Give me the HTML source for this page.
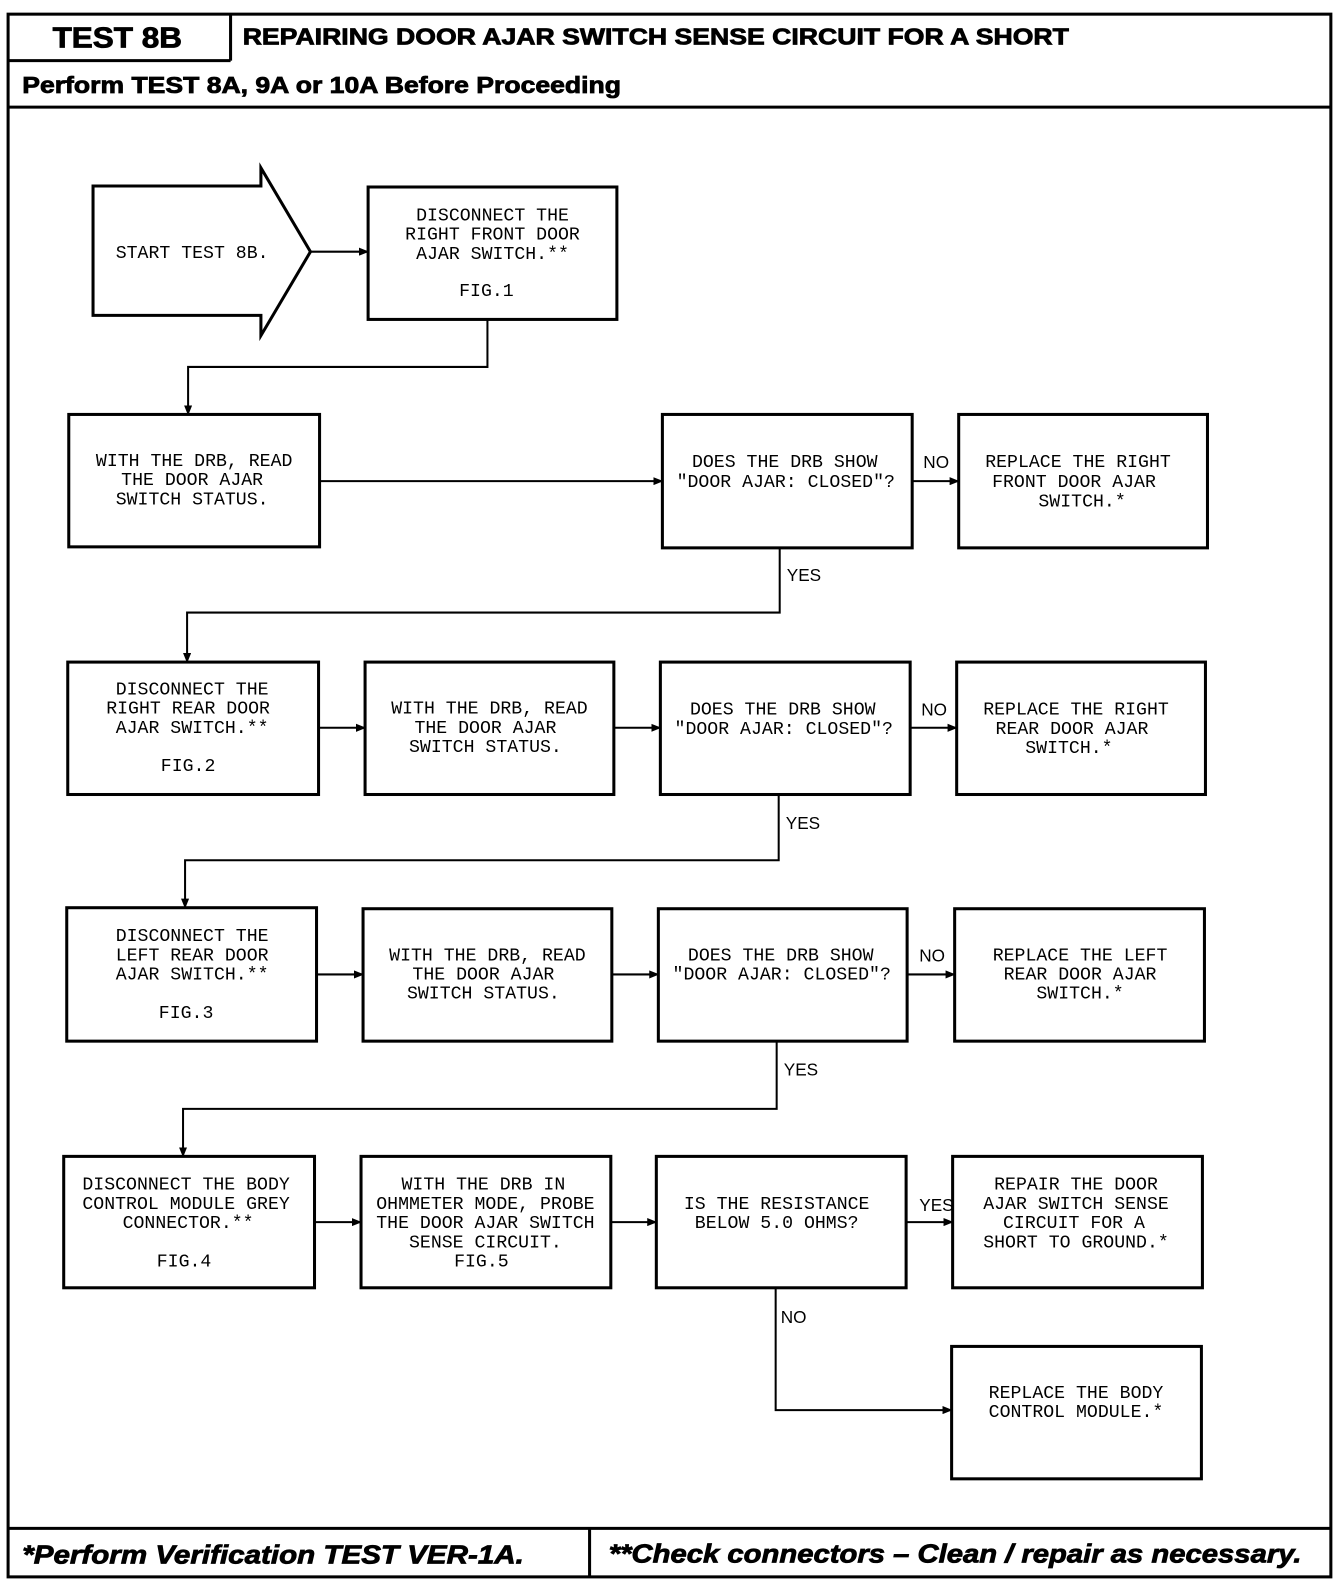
<!DOCTYPE html>
<html><head><meta charset="utf-8"><style>
html,body{margin:0;padding:0;background:#fff;}
svg{display:block}
.m{font-family:"Liberation Mono",monospace;font-size:18px;fill:#000;text-anchor:middle}
.h{font-family:"Liberation Sans",sans-serif;font-weight:bold;fill:#000;stroke:#000;stroke-width:0.8}
.l{font-family:"Liberation Sans",sans-serif;font-size:17px;fill:#000}
</style></head><body>
<svg width="1344" height="1588" viewBox="0 0 1329 1571" preserveAspectRatio="none" xmlns="http://www.w3.org/2000/svg">
<defs><marker id="a" markerWidth="10" markerHeight="8" refX="9" refY="4" orient="auto" markerUnits="userSpaceOnUse"><path d="M0,0 L10,4 L0,8 z" fill="#000"/></marker></defs>
<g fill="none" stroke="#000" stroke-width="3">
<rect x="8" y="14" width="1308" height="1546"/>
<line x1="8" y1="60" x2="228" y2="60"/><line x1="228" y1="14" x2="228" y2="60"/>
<line x1="8" y1="106" x2="1316" y2="106"/>
<line x1="8" y1="1512" x2="1316" y2="1512"/><line x1="583" y1="1512" x2="583" y2="1560"/>
<path d="M92,184 L258,184 L258,166 L307,249 L258,332 L258,312 L92,312 Z"/>
<rect x="364" y="185" width="246" height="131"/>
<rect x="68" y="410" width="248" height="131"/><rect x="655" y="410" width="247" height="132"/><rect x="948" y="410" width="246" height="132"/>
<rect x="67" y="655" width="248" height="131"/><rect x="361" y="655" width="246" height="131"/><rect x="653" y="655" width="247" height="131"/><rect x="946" y="655" width="246" height="131"/>
<rect x="66" y="898" width="247" height="132"/><rect x="359" y="899" width="246" height="131"/><rect x="651" y="899" width="246" height="131"/><rect x="944" y="899" width="247" height="131"/>
<rect x="63" y="1144" width="248" height="130"/><rect x="357" y="1144" width="247" height="130"/><rect x="649" y="1144" width="247" height="130"/><rect x="942" y="1144" width="247" height="130"/>
<rect x="941" y="1332" width="247" height="131"/>
</g>
<g fill="none" stroke="#000" stroke-width="2" marker-end="url(#a)">
<line x1="307" y1="249" x2="364" y2="249"/>
<path d="M482,316 V363 H186 V410"/>
<line x1="316" y1="476" x2="655" y2="476"/><line x1="902" y1="476" x2="948" y2="476"/>
<path d="M771,542 V606 H185 V655"/>
<line x1="315" y1="720" x2="361" y2="720"/><line x1="607" y1="720" x2="653" y2="720"/><line x1="900" y1="720" x2="946" y2="720"/>
<path d="M770,786 V851 H183 V898"/>
<line x1="313" y1="964" x2="359" y2="964"/><line x1="605" y1="964" x2="651" y2="964"/><line x1="897" y1="964" x2="944" y2="964"/>
<path d="M768,1030 V1097 H181 V1144"/>
<line x1="311" y1="1209" x2="357" y2="1209"/><line x1="604" y1="1209" x2="649" y2="1209"/><line x1="896" y1="1209" x2="942" y2="1209"/>
<path d="M767,1274 V1395 H941"/>
</g>
<text class="h" x="52" y="47" font-size="28" textLength="128" lengthAdjust="spacingAndGlyphs">TEST 8B</text>
<text class="h" x="240" y="44" font-size="23" textLength="817" lengthAdjust="spacingAndGlyphs">REPAIRING DOOR AJAR SWITCH SENSE CIRCUIT FOR A SHORT</text>
<text class="h" x="22" y="92" font-size="23" textLength="592" lengthAdjust="spacingAndGlyphs">Perform TEST 8A, 9A or 10A Before Proceeding</text>
<text class="h" x="22" y="1547" font-size="26" font-style="italic" textLength="496" lengthAdjust="spacingAndGlyphs">*Perform Verification TEST VER-1A.</text>
<text class="h" x="602" y="1546" font-size="26" font-style="italic" textLength="685" lengthAdjust="spacingAndGlyphs">**Check connectors – Clean / repair as necessary.</text>
<text class="m" x="190" y="255">START TEST 8B.</text>
<text class="m" x="487" y="218">DISCONNECT THE</text><text class="m" x="487" y="237">RIGHT FRONT DOOR</text><text class="m" x="487" y="256">AJAR SWITCH.**</text><text class="m" x="481" y="293">FIG.1</text>
<text class="m" x="192" y="461">WITH THE DRB, READ</text><text class="m" x="190" y="480">THE DOOR AJAR</text><text class="m" x="190" y="499">SWITCH STATUS.</text>
<text class="m" x="776" y="462">DOES THE DRB SHOW</text><text class="m" x="777" y="482">"DOOR AJAR: CLOSED"?</text>
<text class="m" x="1066" y="462">REPLACE THE RIGHT</text><text class="m" x="1062" y="482">FRONT DOOR AJAR</text><text class="m" x="1070" y="501">SWITCH.*</text>
<text class="l" x="913" y="463">NO</text><text class="l" x="778" y="575">YES</text>
<text class="m" x="190" y="687">DISCONNECT THE</text><text class="m" x="186" y="706">RIGHT REAR DOOR</text><text class="m" x="190" y="725">AJAR SWITCH.**</text><text class="m" x="186" y="763">FIG.2</text>
<text class="m" x="484" y="706">WITH THE DRB, READ</text><text class="m" x="480" y="725">THE DOOR AJAR</text><text class="m" x="480" y="744">SWITCH STATUS.</text>
<text class="m" x="774" y="707">DOES THE DRB SHOW</text><text class="m" x="775" y="726">"DOOR AJAR: CLOSED"?</text>
<text class="m" x="1064" y="707">REPLACE THE RIGHT</text><text class="m" x="1060" y="726">REAR DOOR AJAR</text><text class="m" x="1057" y="745">SWITCH.*</text>
<text class="l" x="911" y="708">NO</text><text class="l" x="777" y="820">YES</text>
<text class="m" x="190" y="931">DISCONNECT THE</text><text class="m" x="190" y="950">LEFT REAR DOOR</text><text class="m" x="190" y="969">AJAR SWITCH.**</text><text class="m" x="184" y="1007">FIG.3</text>
<text class="m" x="482" y="950">WITH THE DRB, READ</text><text class="m" x="478" y="969">THE DOOR AJAR</text><text class="m" x="478" y="988">SWITCH STATUS.</text>
<text class="m" x="772" y="950">DOES THE DRB SHOW</text><text class="m" x="773" y="969">"DOOR AJAR: CLOSED"?</text>
<text class="m" x="1068" y="950">REPLACE THE LEFT</text><text class="m" x="1068" y="969">REAR DOOR AJAR</text><text class="m" x="1068" y="988">SWITCH.*</text>
<text class="l" x="909" y="951">NO</text><text class="l" x="775" y="1064">YES</text>
<text class="m" x="184" y="1177">DISCONNECT THE BODY</text><text class="m" x="184" y="1196">CONTROL MODULE GREY</text><text class="m" x="186" y="1215">CONNECTOR.**</text><text class="m" x="182" y="1253">FIG.4</text>
<text class="m" x="478" y="1177">WITH THE DRB IN</text><text class="m" x="480" y="1196">OHMMETER MODE, PROBE</text><text class="m" x="480" y="1215">THE DOOR AJAR SWITCH</text><text class="m" x="480" y="1234">SENSE CIRCUIT.</text><text class="m" x="476" y="1253">FIG.5</text>
<text class="m" x="768" y="1196">IS THE RESISTANCE</text><text class="m" x="768" y="1215">BELOW 5.0 OHMS?</text>
<text class="m" x="1064" y="1177">REPAIR THE DOOR</text><text class="m" x="1064" y="1196">AJAR SWITCH SENSE</text><text class="m" x="1062" y="1215">CIRCUIT FOR A</text><text class="m" x="1064" y="1234">SHORT TO GROUND.*</text>
<text class="l" x="909" y="1198">YES</text><text class="l" x="772" y="1309">NO</text>
<text class="m" x="1064" y="1383">REPLACE THE BODY</text><text class="m" x="1064" y="1402">CONTROL MODULE.*</text>
</svg>
</body></html>
